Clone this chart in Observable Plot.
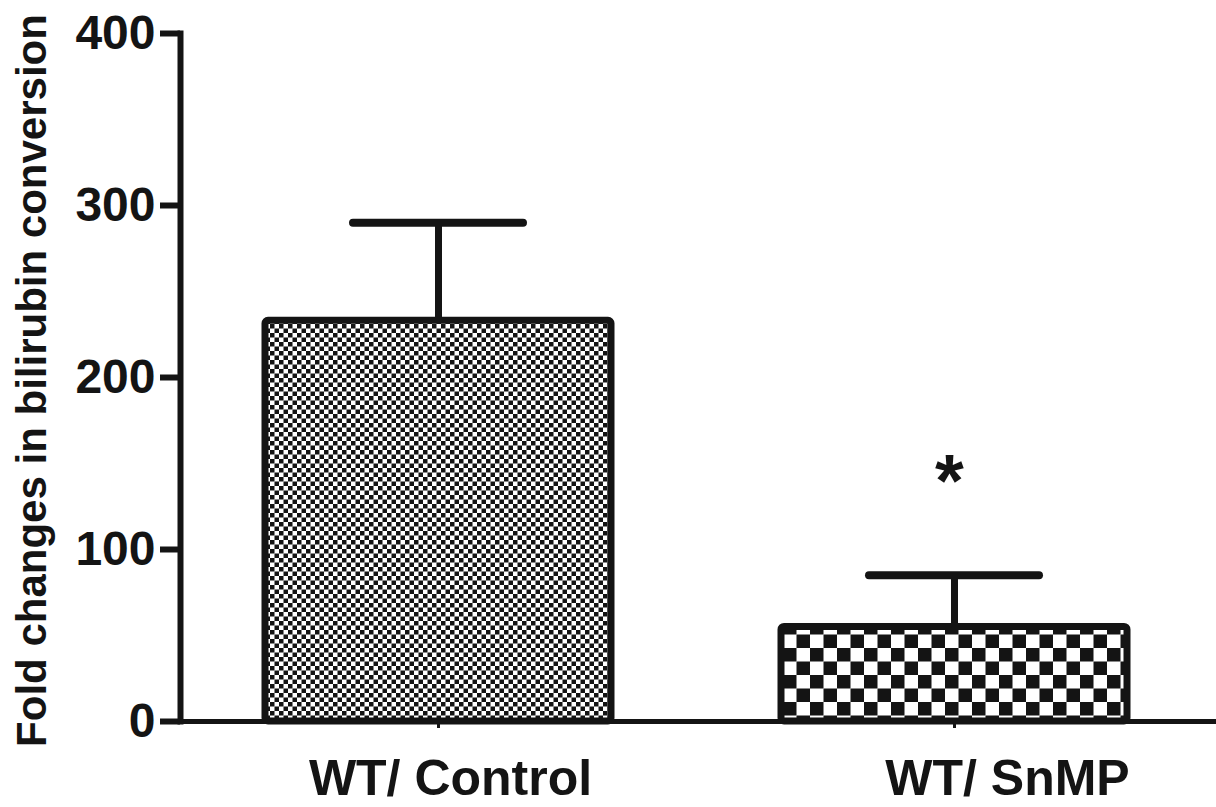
<!DOCTYPE html>
<html><head><meta charset="utf-8">
<script src="https://cdn.jsdelivr.net/npm/d3@7"></script>
<script src="https://cdn.jsdelivr.net/npm/@observablehq/plot@0.6"></script>
<style>
html,body{margin:0;padding:0;background:#fff;}
svg{display:block;}
</style></head><body><div id="chart"></div>
<script>
// ---- data ----
const categories = ["WT/ Control", "WT/ SnMP"];
const means = [233, 55];
const sems = [57, 30];
const notes = ["", "*"];
const yTicks = [0, 100, 200, 300, 400];
const yTitle = "Fold changes in bilirubin conversion";
const patternIds = ["check-fine", "check-coarse"];

const ink = "#141414";
const font = "'Liberation Sans', Arial, Helvetica, sans-serif";

const data = categories.map((c, i) => ({
  category: c, mean: means[i], sem: sems[i], top: means[i] + sems[i],
  fill: `url(#${patternIds[i]})`, note: notes[i]
}));

const labelStyle = {tickSize: 0, tickPadding: 38, fontSize: 50, fontWeight: "bold", label: null};

const chart = Plot.plot({
  width: 1216, height: 807,
  marginLeft: 180, marginRight: 4, marginTop: 33, marginBottom: 86,
  style: {background: "#fff", color: ink, fontFamily: font, fontWeight: "bold"},
  x: {domain: categories, paddingInner: 0.33, paddingOuter: 0.165, label: null},
  y: {domain: [0, 400], label: null},
  color: {type: "identity"},
  marks: [
    Plot.ruleX(data, {x: "category", y1: "mean", y2: "top", stroke: ink, strokeWidth: 7}),
    Plot.tickY(data, {x: "category", y: "top", stroke: ink, strokeWidth: 8, strokeLinecap: "round", insetLeft: 88, insetRight: 88}),
    Plot.barY(data, {x: "category", y: "mean", fill: "fill", stroke: ink, strokeWidth: 7, strokeLinejoin: "round", rx: 3}),
    Plot.ruleY([0], {stroke: ink, strokeWidth: 5, insetRight: -4}),
    Plot.frame({anchor: "left", stroke: ink, strokeWidth: 6}),
    Plot.axisY({ticks: yTicks, tickSize: 20, tickPadding: 5, fontSize: 48, fontWeight: "bold", strokeWidth: 6, label: null}),
    Plot.axisX({ticks: categories, tickSize: 7, tickFormat: () => "", strokeWidth: 3, label: null}),
    Plot.axisX({...labelStyle, ticks: [categories[0]], dx: 12}),
    Plot.axisX({...labelStyle, ticks: [categories[1]], dx: 53}),
    Plot.text(data, {x: "category", y: d => d.top + 54, text: "note", fontSize: 74, fontWeight: "bold", fill: ink, dx: -5}),
    Plot.text([yTitle], {frameAnchor: "left", textAnchor: "middle", rotate: -90, dx: -148, dy: 3, fontSize: 42, fontWeight: "bold", fill: ink})
  ]
});

// checkerboard patterns
const ns = "http://www.w3.org/2000/svg";
const defs = document.createElementNS(ns, "defs");
[[patternIds[0], 4.5], [patternIds[1], 13.5]].forEach(([id, s]) => {
  const p = document.createElementNS(ns, "pattern");
  p.setAttribute("id", id);
  p.setAttribute("patternUnits", "userSpaceOnUse");
  p.setAttribute("width", 2 * s);
  p.setAttribute("height", 2 * s);
  const bg = document.createElementNS(ns, "rect");
  bg.setAttribute("width", 2 * s); bg.setAttribute("height", 2 * s); bg.setAttribute("fill", "#fff");
  p.appendChild(bg);
  [[0, 0], [s, s]].forEach(([x, y]) => {
    const r = document.createElementNS(ns, "rect");
    r.setAttribute("x", x); r.setAttribute("y", y);
    r.setAttribute("width", s); r.setAttribute("height", s);
    r.setAttribute("fill", ink);
    p.appendChild(r);
  });
  defs.appendChild(p);
});
chart.insertBefore(defs, chart.firstChild);
document.getElementById("chart").appendChild(chart);
</script></body></html>
